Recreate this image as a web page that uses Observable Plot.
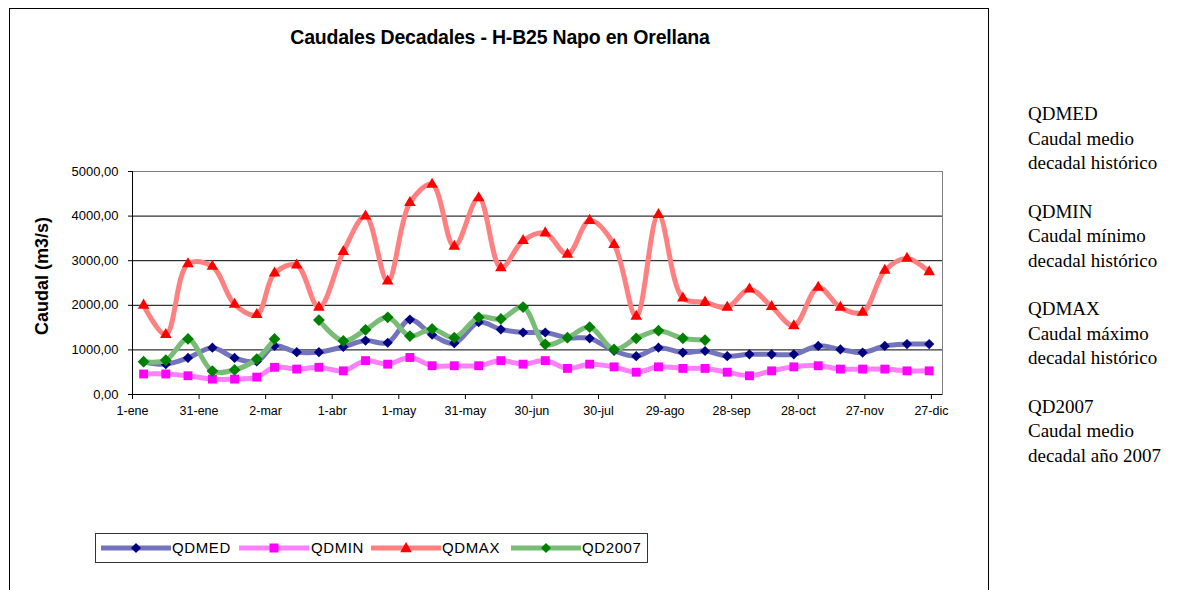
<!DOCTYPE html>
<html>
<head>
<meta charset="utf-8">
<script src="https://cdn.jsdelivr.net/npm/d3@7"></script>
<script src="https://cdn.jsdelivr.net/npm/@observablehq/plot@0.6"></script>
<style>
  body { margin: 0; background: #fff; }
  #wrap { position: relative; width: 1189px; height: 590px; overflow: hidden; font-family: "Liberation Sans", Arial, sans-serif; color: #000; }
  #frame { position: absolute; left: 9px; top: 8px; width: 980px; height: 640px; border: 1px solid #000; box-sizing: border-box; }
  #title { position: absolute; left: 10px; width: 980px; top: 26px; text-align: center; font-weight: bold; font-size: 19.5px; letter-spacing: -0.2px; }
  #ylabel { position: absolute; left: 42px; top: 276px; transform: translate(-50%, -50%) rotate(-90deg); font-weight: bold; font-size: 18px; white-space: nowrap; }
  #chart { position: absolute; left: 0; top: 140px; }
  #legend { position: absolute; left: 95px; top: 533px; width: 553px; height: 30px; border: 1px solid #333; box-sizing: border-box; }
  .li { position: absolute; top: 0; height: 28px; }
  .li svg { position: absolute; top: 4px; }
  .li span { position: absolute; top: 5px; font-size: 15px; white-space: nowrap; letter-spacing: 0.6px; }
  #notes { position: absolute; left: 1028px; top: 102px; font-family: "Liberation Serif", "Times New Roman", serif; font-size: 19px; line-height: 24.5px; }
  #notes p { margin: 0 0 24px 0; }
</style>
</head>
<body>
<div id="wrap">
  <div id="frame"></div>
  <div id="title">Caudales Decadales - H-B25 Napo en Orellana</div>
  <div id="ylabel">Caudal (m3/s)</div>
  <div id="chart"></div>
  <div id="legend"></div>
  <div id="notes">
    <p>QDMED<br>Caudal medio<br>decadal histórico</p>
    <p>QDMIN<br>Caudal mínimo<br>decadal histórico</p>
    <p>QDMAX<br>Caudal máximo<br>decadal histórico</p>
    <p>QD2007<br>Caudal medio<br>decadal año 2007</p>
  </div>
</div>
<script>
// Decadal dates (x positions)
const decadas = [
  "2007-01-06","2007-01-16","2007-01-26",
  "2007-02-06","2007-02-16","2007-02-26",
  "2007-03-06","2007-03-16","2007-03-26",
  "2007-04-06","2007-04-16","2007-04-26",
  "2007-05-06","2007-05-16","2007-05-26",
  "2007-06-06","2007-06-16","2007-06-26",
  "2007-07-06","2007-07-16","2007-07-26",
  "2007-08-06","2007-08-16","2007-08-26",
  "2007-09-06","2007-09-16","2007-09-26",
  "2007-10-06","2007-10-16","2007-10-26",
  "2007-11-06","2007-11-16","2007-11-26",
  "2007-12-06","2007-12-16","2007-12-26"
];
const qdmed = [730,680,820, 1050,820,740, 1090,950,950, 1070,1210,1160, 1680,1340,1150, 1620,1460,1390,
               1390,1270,1260, 980,860,1050, 940,975,860, 900,900,900, 1090,1010,940, 1090,1130,1130];
const qdmin = [460,460,420, 345,345,390, 610,570,610, 530,760,680, 830,645,645, 645,760,680,
               760,585,680, 620,500,620, 585,585,500, 420,530,620, 645,570,570, 570,530,530];
const qdmax = [2000,1340,2930, 2870,2020,1790, 2720,2900,1950, 3200,4000,2540, 4300,4710,3320, 4410,2840,3450,
               3620,3140,3900, 3360,1750,4030, 2160,2070,1950, 2360,1970,1540, 2400,1950,1840, 2780,3050,2750];
const qd2007 = [735,770,1245, 525,550,795, 1245,null,1670, 1200,1450,1730, 1310,1470,1275, 1730,1695,1960,
                1125,1275,1510, 1010,1260,1430, 1260,1220,null, null,null,null, null,null,null, null,null,null];

const tickDates = ["2007-01-01","2007-01-31","2007-03-02","2007-04-01","2007-05-01","2007-05-31","2007-06-30",
                   "2007-07-30","2007-08-29","2007-09-28","2007-10-28","2007-11-27","2007-12-27"];
const tickLabels = ["1-ene","31-ene","2-mar","1-abr","1-may","31-may","30-jun","30-jul","29-ago","28-sep","28-oct","27-nov","27-dic"];
const yTicks = [0,1000,2000,3000,4000,5000];

const series = [
  {name: "QDMED", values: qdmed, line: "#7474bc", mark: "#000080", symbol: "diamond2", r: 4.6},
  {name: "QDMIN", values: qdmin, line: "#ff80ff", mark: "#ff00ff", symbol: "square", r: 5},
  {name: "QDMAX", values: qdmax, line: "#ff8080", mark: "#ff0000", symbol: "triangle", r: 4.3},
  {name: "QD2007", values: qd2007, line: "#78bc78", mark: "#008000", symbol: "diamond2", r: 5.3}
];

const parse = d3.utcParse("%Y-%m-%d");
const labelMap = new Map(tickDates.map((d, i) => [+parse(d), tickLabels[i]]));

const marks = [
  Plot.gridY(yTicks.filter(v => v > 0), {stroke: "#000", strokeOpacity: 1}),
  Plot.frame({stroke: "#808080"}),
  Plot.ruleY([0], {stroke: "#000"}),
  Plot.ruleX([parse("2007-01-01")], {stroke: "#000"}),
  Plot.axisY({ticks: yTicks, tickFormat: d => d.toFixed(2).replace(".", ","), tickSize: 4, tickPadding: 10, label: null, fontSize: 13}),
  Plot.axisX({ticks: tickDates.map(parse), tickFormat: d => labelMap.get(+d), tickSize: 5, tickPadding: 7, label: null, fontSize: 12.5})
];
for (const s of series) {
  const rows = decadas.map((d, i) => ({date: parse(d), v: s.values[i]}));
  marks.push(Plot.line(rows, {x: "date", y: "v", stroke: s.line, strokeWidth: 5, curve: "catmull-rom"}));
  marks.push(Plot.dot(rows.filter(r => r.v != null), {x: "date", y: "v", fill: s.mark, stroke: "none", symbol: s.symbol, r: s.r}));
}

const chart = Plot.plot({
  width: 990,
  height: 290,
  marginLeft: 132,
  marginRight: 48,
  marginTop: 31,
  marginBottom: 36,
  style: {fontFamily: "'Liberation Sans', Arial, sans-serif", fontSize: "13px", color: "#000", background: "transparent"},
  x: {type: "utc", domain: [parse("2007-01-01"), parse("2008-01-01")]},
  y: {domain: [0, 5000]},
  marks
});
document.getElementById("chart").appendChild(chart);

// Legend
const legend = document.getElementById("legend");
const legPos = [[5, 76], [143, 215], [275, 346], [415, 486]];
const symPath = {
  diamond2: r => `M0,${-r}L${r},0L0,${r}L${-r},0Z`,
  square: r => `M${-r},${-r}H${r}V${r}H${-r}Z`,
  triangle: r => `M0,${-r*1.1}L${r*1.05},${r*0.75}L${-r*1.05},${r*0.75}Z`
};
series.forEach((s, i) => {
  const div = document.createElement("div");
  div.className = "li";
  div.style.left = legPos[i][0] + "px";
  const half = s.symbol === "square" ? 4.5 : s.symbol === "triangle" ? 5.5 : 5;
  div.innerHTML = `<svg width="71" height="20"><line x1="0" x2="70" y1="10" y2="10" stroke="${s.line}" stroke-width="5"/>` +
    `<path transform="translate(35,10)" d="${symPath[s.symbol](half)}" fill="${s.mark}"/></svg>` +
    `<span style="left:${legPos[i][1] - legPos[i][0]}px">${s.name}</span>`;
  legend.appendChild(div);
});
</script>
</body>
</html>
